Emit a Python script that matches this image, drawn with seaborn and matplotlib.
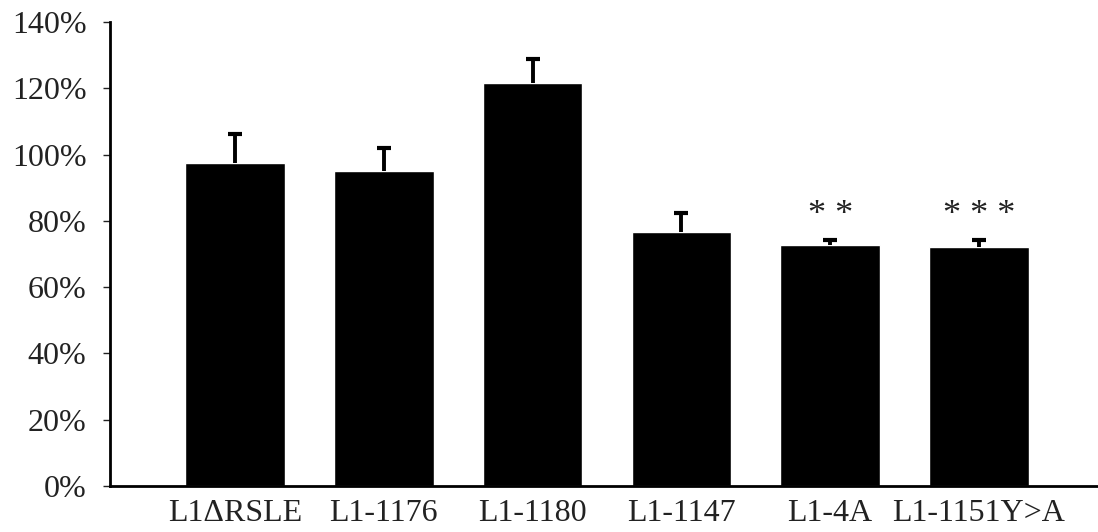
import numpy as np
import pandas as pd
import seaborn as sns
import matplotlib.pyplot as plt

# Values (percent of control)
constructs = ["L1\u0394RSLE", "L1-1176", "L1-1180", "L1-1147", "L1-4A", "L1-1151Y>A"]
means = [97.4, 95.0, 121.5, 76.7, 72.7, 72.1]
errors = [8.8, 7.1, 7.3, 5.8, 1.5, 2.1]
stars = ["", "", "", "", "* *", "* * *"]
yticks = [0, 20, 40, 60, 80, 100, 120, 140]

df = pd.DataFrame({"construct": constructs, "mean": means, "err": errors, "sig": stars})

sns.set_style("white")
plt.rcParams["font.family"] = ["Liberation Serif", "DejaVu Serif"]

fig = plt.figure(figsize=(10.98, 5.32), dpi=100)
ax = fig.add_axes([0.1002, 0.0865, 0.8998, 0.8721])

sns.barplot(data=df, x="construct", y="mean", color="black", width=0.67,
            saturation=1, errorbar=None, ax=ax)

# upper-only error bars (hide the lower caps)
x = np.arange(len(df))
eb = ax.errorbar(x, df["mean"], yerr=[np.zeros(len(df)), df["err"]], fmt="none",
                 ecolor="black", elinewidth=2.8, capsize=5, capthick=3)
eb[1][0].set_visible(False)

# significance stars
for i, row in df.iterrows():
    if row["sig"]:
        ax.text(i, row["mean"] + row["err"] + 7.5, row["sig"], ha="center", va="center",
                fontsize=26, color="#222222")

ax.set_xlim(-0.84, 5.80)
ax.set_ylim(0, 140)
ax.set_yticks(yticks)
ax.set_yticklabels([f"{t}%" for t in yticks])
ax.set_xlabel("")
ax.set_ylabel("")

for side in ["top", "right"]:
    ax.spines[side].set_visible(False)
for side in ["left", "bottom"]:
    ax.spines[side].set_color("black")
    ax.spines[side].set_linewidth(2)

ax.tick_params(axis="y", left=True, length=5, width=1, labelsize=23, pad=12, colors="#222222")
ax.tick_params(axis="x", bottom=False, labelsize=23, pad=6, colors="#222222")

fig.savefig("out.png", dpi=100)
